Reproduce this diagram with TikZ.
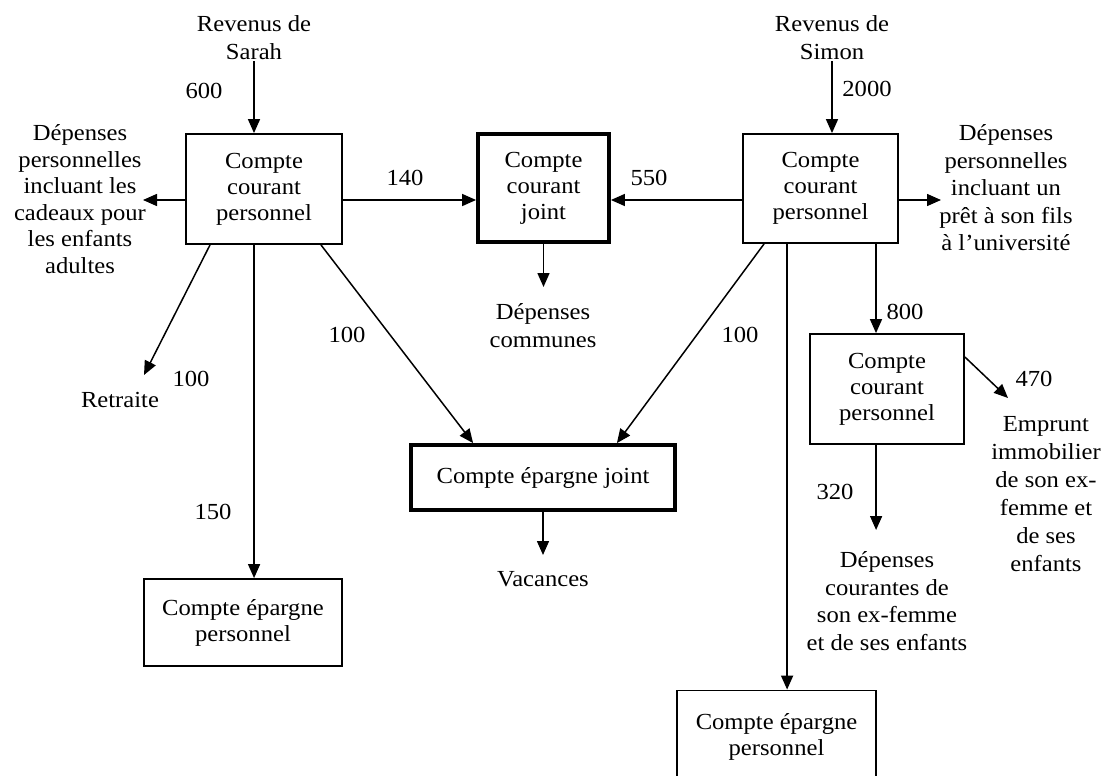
\documentclass[tikz,border=0pt]{standalone}
\usepackage{fontspec}
\setmainfont{Liberation Serif}[FakeStretch=1.07]
\usetikzlibrary{arrows.meta,calc}

\tikzset{
  txt/.style={align=center, inner sep=1pt, font=\fontsize{23}{26}\selectfont},
  num/.style={inner sep=0pt, font=\fontsize{23}{26}\selectfont},
  acct/.style={draw, line width=1.8pt, align=center, inner sep=0pt,
               font=\fontsize{23}{26}\selectfont},
  jointacct/.style={acct, line width=3.8pt},
  arr/.style={line width=1.5pt, -{Triangle[length=14pt,width=12pt]}},
}

\begin{document}
\begin{tikzpicture}[x=1pt, y=-1pt]
\useasboundingbox (0,0) rectangle (1106,776);

% accounts
\node[acct, minimum width=156, minimum height=110] (A) at (264,189) {Compte\\courant\\personnel};
\node[jointacct, minimum width=131, minimum height=108] (B) at (543.5,188) {Compte\\courant\\joint};
\node[acct, minimum width=155, minimum height=109] (C) at (820.5,188.5) {Compte\\courant\\personnel};
\node[acct, minimum width=154, minimum height=110] (D) at (887,389) {Compte\\courant\\personnel};
\node[jointacct, minimum width=264, minimum height=65] (G) at (543,477.5) {Compte épargne joint};
\node[acct, minimum width=198, minimum height=87] (F) at (243,622.5) {Compte épargne\\personnel};
\node[acct, minimum width=199, minimum height=93] (E) at (776.5,737) {Compte épargne\\personnel};

% sources and destinations
\node[txt, font=\fontsize{23}{28}\selectfont] (revS) at (254,38) {Revenus de\\Sarah};
\node[txt, font=\fontsize{23}{28}\selectfont] (revM) at (832,38) {Revenus de\\Simon};
\node[txt, font=\fontsize{23}{26.5}\selectfont] (depS) at (80,199) {Dépenses\\personnelles\\incluant les\\cadeaux pour\\les enfants\\adultes};
\node[txt, font=\fontsize{23}{27.5}\selectfont] (depR) at (1006,188) {Dépenses\\personnelles\\incluant un\\prêt à son fils\\à l’université};
\node[txt, font=\fontsize{23}{28}\selectfont] (depC) at (543,326) {Dépenses\\communes};
\node[txt] (ret) at (120,400) {Retraite};
\node[txt] (vac) at (543,579) {Vacances};
\node[txt, font=\fontsize{23}{28}\selectfont] (empr) at (1046,494) {Emprunt\\immobilier\\de son ex-\\femme et\\de ses\\enfants};
\node[txt, font=\fontsize{23}{27.5}\selectfont] (depX) at (887,601) {Dépenses\\courantes de\\son ex-femme\\et de ses enfants};

% amounts
\node[num] (n600) at (204,91) {600};
\node[num] (n2000) at (867,89) {2000};
\node[num] (n140) at (405,178) {140};
\node[num] (n550) at (649,178) {550};
\node[num] (n100a) at (191,379) {100};
\node[num] (n150) at (213,512) {150};
\node[num] (n100b) at (347,335) {100};
\node[num] (n100c) at (740,335) {100};
\node[num] (n800) at (905,312) {800};
\node[num] (n470) at (1034,379) {470};
\node[num] (n320) at (835,492) {320};

% free ends of the outflows
\coordinate (tipS) at (143,200);
\coordinate (tipR) at (941,200);
\coordinate (tipC) at (543,287);
\coordinate (tipRet) at (144,375);
\coordinate (tipE) at (1008,398);
\coordinate (tipDX) at (876,530);
\coordinate (tipV) at (543,555);

% exit points on the account borders
\coordinate (a1) at ($(A.south west)!0.158!(A.south east)$);
\coordinate (a2) at ($(A.south west)!0.437!(A.south east)$);
\coordinate (a3) at ($(A.south west)!0.861!(A.south east)$);
\coordinate (c1) at ($(C.south west)!0.14!(C.south east)$);
\coordinate (c2) at ($(C.south west)!0.287!(C.south east)$);
\coordinate (c3) at ($(C.south west)!0.854!(C.south east)$);
\coordinate (g1) at ($(G.north west)!0.239!(G.north east)$);
\coordinate (g2) at ($(G.north west)!0.776!(G.north east)$);
\coordinate (d1) at ($(D.north east)!0.214!(D.south east)$);
\coordinate (d2) at ($(D.south west)!0.43!(D.south east)$);

% incomes
\draw[arr] (revS.south) -- (revS.south |- A.north);
\draw[arr] (revM.south) -- (revM.south |- C.north);

% Sarah's account
\draw[arr] (A.west |- tipS) -- (tipS);
\draw[arr] (A.east |- tipS) -- (B.west |- tipS);
\draw[arr] (a1) -- (tipRet);
\draw[arr] (a2) -- (a2 |- F.north);
\draw[arr] (a3) -- (g1);

% Simon's account
\draw[arr] (C.west |- tipS) -- (B.east |- tipS);
\draw[arr] (C.east |- tipS) -- (tipR);
\draw[arr] (c1) -- (g2);
\draw[arr] (c2) -- (c2 |- E.north);
\draw[arr] (c3) -- (c3 |- D.north);

% second account of Simon
\draw[arr] (d1) -- (tipE);
\draw[arr] (d2) -- (d2 |- tipDX);

% joint accounts
\draw[arr] (B.south) -- (B.south |- tipC);
\draw[arr] (G.south) -- (G.south |- tipV);
\end{tikzpicture}
\end{document}
